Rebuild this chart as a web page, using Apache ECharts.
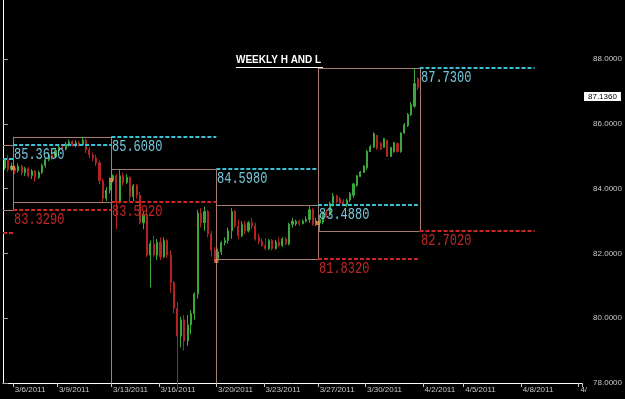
<!DOCTYPE html>
<html><head><meta charset="utf-8">
<script src="https://cdn.jsdelivr.net/npm/echarts@6/dist/echarts.min.js"></script>
<style>html,body{margin:0;padding:0;background:#000;}#c{width:625px;height:399px;}</style>
</head><body><div id="c"></div>
<script>
// ---------- data ----------
const titleText = 'WEEKLY H AND L';
const yMin = 78, yMax = 89.83, yStep = 2;
const slotCount = 171;                       // 4-hour slots shown on the x axis
const tickIdx = [3, 16, 32, 46, 63, 77, 93, 107, 124, 136, 153, 170];
const tickLabels = ['3/6/2011','3/9/2011','3/13/2011','3/16/2011','3/20/2011','3/23/2011','3/27/2011','3/30/2011','4/2/2011','4/5/2011','4/8/2011','4/'];
// week spans in slot units (week 0 starts off-chart, week 5 has no bars yet)
const weekFrom = [-27, 3, 32, 63, 93, 123];
const weekTo   = [3, 32, 63, 93, 123, 157];
// weekly high / low for weeks -1 .. 4
const weeklyHigh = [84.91, 85.365, 85.608, 84.598, 83.488, 87.730];
const weeklyLow  = [82.63, 83.329, 83.592, 77.800, 81.832, 82.702];
// weekly open (weeks 1..4)
const weeklyOpen = [84.64, 84.27, 81.77, 82.94];
const lastClose = 87.136;
// candles: [open, close, low, high]
const candlesPre = [
 [84.65,84.90,84.58,84.95],[84.90,84.60,84.52,85.05],[84.60,84.70,84.55,84.80]
];
const candlesW1 = [
 [84.64,84.55,84.45,84.72],[84.55,84.70,84.50,84.78],[84.70,84.50,84.42,84.74],[84.50,84.62,84.40,84.68],
 [84.62,84.40,84.35,84.66],[84.40,84.55,84.30,84.60],[84.55,84.35,84.21,84.58],[84.35,84.50,84.30,84.56],
 [84.50,84.72,84.45,84.78],[84.72,84.90,84.65,84.95],[84.90,85.05,84.85,85.12],[85.05,84.98,84.90,85.15],
 [84.98,85.18,84.95,85.22],[85.18,85.28,85.10,85.35],[85.28,85.22,85.15,85.36],[85.22,85.38,85.18,85.45],
 [85.38,85.45,85.30,85.52],[85.45,85.35,85.30,85.50],[85.35,85.42,85.28,85.50],[85.42,85.36,85.30,85.48],
 [85.36,85.50,85.32,85.608],[85.50,85.20,85.10,85.55],[85.20,85.05,84.95,85.28],[85.05,84.95,84.85,85.12],
 [84.95,84.80,84.70,85.05],[84.80,84.25,84.15,84.88],[84.25,83.70,83.592,84.32],[83.70,83.95,83.62,84.05],
 [83.95,84.25,83.85,84.35]
];
const candlesW2 = [
 [84.27,84.40,84.20,84.45],[84.40,83.60,82.75,84.45],[83.60,84.40,83.55,84.598],[84.40,84.20,84.10,84.50],
 [84.20,84.35,84.15,84.45],[84.35,83.75,83.62,84.38],[83.75,84.10,83.62,84.15],[84.10,83.80,83.70,84.15],
 [83.80,82.95,82.90,83.90],[82.95,83.20,82.75,83.30],[83.20,81.95,81.89,83.25],[81.95,82.30,80.95,82.40],
 [82.30,81.95,81.90,82.55],[81.95,82.35,81.80,82.45],[82.35,81.90,81.80,82.50],[81.90,82.40,81.85,82.50],
 [82.40,81.95,81.85,82.45],[81.95,81.10,80.78,82.10],[81.10,80.30,80.15,81.15],[80.30,79.45,77.80,80.50],
 [79.45,79.95,79.10,80.05],[79.95,79.30,79.00,80.10],[79.30,79.80,79.15,80.10],[79.80,80.15,79.50,80.25],
 [80.15,80.75,79.95,80.80],[80.75,83.25,80.60,83.35],[83.25,82.95,82.80,83.40],[82.95,83.30,82.70,83.45],
 [83.30,82.60,82.50,83.35],[82.60,82.10,81.90,82.70],[82.10,81.85,81.77,82.20]
];
const candlesW3 = [
 [81.84,82.05,81.832,82.15],[82.05,82.33,81.95,82.38],[82.33,82.40,82.25,82.50],[82.40,82.70,82.30,82.80],
 [82.70,83.30,82.45,83.40],[83.30,82.85,82.80,83.35],[82.85,82.55,82.45,83.05],[82.55,82.90,82.50,83.00],
 [82.90,82.70,82.60,83.00],[82.70,82.95,82.65,83.00],[82.95,82.85,82.75,83.10],[82.85,82.45,82.40,82.95],
 [82.50,82.38,82.30,82.60],[82.38,82.25,82.20,82.45],[82.25,82.15,82.10,82.48],[82.15,82.40,82.10,82.45],
 [82.40,82.15,82.10,82.45],[82.15,82.35,82.12,82.42],[82.35,82.25,82.20,82.50],[82.25,82.45,82.20,82.50],
 [82.45,82.30,82.25,82.50],[82.30,82.90,82.25,82.95],[82.90,83.00,82.80,83.10],[82.92,83.00,82.85,83.05],
 [83.00,82.92,82.85,83.05],[82.92,83.00,82.90,83.05],[83.00,83.05,82.95,83.15],[83.05,83.35,82.95,83.488],
 [83.35,82.90,82.85,83.40],[82.90,83.00,82.85,83.10]
];
const candlesW4 = [
 [82.94,83.05,82.702,83.19],[82.97,83.28,82.90,83.30],[83.28,83.20,83.10,83.35],[83.20,83.55,83.15,83.60],
 [83.55,83.78,83.45,83.87],[83.78,83.60,83.55,83.82],[83.70,83.55,83.50,83.75],[83.60,83.50,83.45,83.68],
 [83.50,83.65,83.44,83.70],[83.65,83.85,83.58,83.90],[83.80,84.15,83.72,84.18],[84.10,84.40,84.06,84.43],
 [84.38,84.52,84.36,84.55],[84.50,84.70,84.49,84.73],[84.65,85.15,84.58,85.20],[85.15,85.30,85.14,85.35],
 [85.28,85.70,85.26,85.75],[85.65,85.25,85.20,85.66],[85.40,85.22,85.20,85.45],[85.28,85.55,85.26,85.57],
 [85.50,85.00,84.98,85.51],[85.00,85.28,84.98,85.29],[85.15,85.42,85.11,85.45],[85.40,85.15,85.12,85.42],
 [85.15,85.72,85.11,85.75],[85.72,85.98,85.70,86.03],[85.95,86.30,85.91,86.34],[86.28,86.60,86.25,86.68],
 [86.55,87.25,86.50,87.73],[87.40,87.136,87.05,87.45]
];

// ---------- styles ----------
const UP = '#3aa83a', DOWN = '#b52222';
const BOX = '#a67c72';
const HI_LINE = '#3cc0d4', LO_LINE = '#cc2626';
const HI_TXT = '#74c6d8', LO_TXT = '#c02626';
const AXIS_TXT = '#c8c8c8';
const FONT = '"Liberation Sans", Arial, sans-serif';

// ---------- build ----------
const categories = Array.from({length: slotCount}, (_, i) => String(i));
const candles = [].concat(candlesPre, candlesW1, candlesW2, candlesW3, candlesW4);
const boxes = [];
for (let w = 0; w < 5; w++) boxes.push([weekFrom[w], weekTo[w], weeklyHigh[w + 1], weeklyLow[w + 1]]);
const levels = [];
for (let w = 0; w < 6; w++) {
  levels.push([weekFrom[w], weekTo[w], weeklyHigh[w], 0]);
  levels.push([weekFrom[w], weekTo[w], weeklyLow[w], 1]);
}
const opens = weeklyOpen.map((v, i) => [weekFrom[i + 1], v]);

function renderBox(params, api) {
  const cs = params.coordSys;
  const a = api.coord([api.value(0), api.value(2)]);
  const b = api.coord([api.value(1), api.value(3)]);
  const L = Math.max(a[0], cs.x), R = Math.min(b[0], cs.x + cs.width);
  const T = Math.max(a[1], cs.y), B = Math.min(b[1], cs.y + cs.height);
  const st = {stroke: BOX, lineWidth: 1};
  const kids = [];
  const px = v => Math.round(v) + 0.5;
  if (a[1] >= cs.y) kids.push({type: 'line', shape: {x1: L, y1: px(a[1]), x2: R, y2: px(a[1])}, style: st});
  if (b[1] <= cs.y + cs.height) kids.push({type: 'line', shape: {x1: L, y1: px(b[1]), x2: R, y2: px(b[1])}, style: st});
  if (a[0] >= cs.x) kids.push({type: 'line', shape: {x1: px(a[0]), y1: T, x2: px(a[0]), y2: B}, style: st});
  if (b[0] <= cs.x + cs.width) kids.push({type: 'line', shape: {x1: px(b[0]), y1: T, x2: px(b[0]), y2: B}, style: st});
  return {type: 'group', children: kids};
}
function renderLevel(params, api) {
  const cs = params.coordSys;
  const v = api.value(2), kind = api.value(3);
  const a = api.coord([api.value(0), v]);
  const b = api.coord([api.value(1), v]);
  const y = Math.round(a[1]);
  if (y < cs.y || y > cs.y + cs.height) return null;
  const x0 = Math.max(a[0], cs.x), x1 = Math.min(b[0], cs.x + cs.width);
  const kids = [{type: 'line', shape: {x1: x0, y1: y, x2: x1, y2: y},
    style: {stroke: kind === 0 ? HI_LINE : LO_LINE, lineWidth: 2, lineDash: [4, 2]}}];
  if (a[0] >= cs.x) {
    kids.push({type: 'text', x: Math.round(a[0]) + 1, y: y + 1, scaleY: 1.45,
      style: {text: v.toFixed(4), x: 0, y: 0, fill: kind === 0 ? HI_TXT : LO_TXT,
        font: '12px "Liberation Mono", monospace', align: 'left', verticalAlign: 'top'}});
  }
  return {type: 'group', children: kids};
}
function renderLast(params, api) {
  const p = api.coord([api.value(0), api.value(1)]);
  return {type: 'text', x: Math.round(p[0]) + 2, y: Math.round(p[1]) + 5,
    style: {text: api.value(1).toFixed(4), x: 0, y: 0, fill: '#000', backgroundColor: '#ffffff',
      padding: [1, 4, 0, 4], font: '8px ' + FONT, align: 'left', verticalAlign: 'top'}};
}

const chart = echarts.init(document.getElementById('c'), null, {renderer: 'canvas'});
chart.setOption({
  backgroundColor: '#000',
  animation: false,
  title: {text: titleText, left: 236, top: 55, padding: 0,
    textStyle: {color: '#fff', fontSize: 10, fontWeight: 'bold', fontFamily: FONT}},
  graphic: [{type: 'line', shape: {x1: 236, y1: 67.5, x2: 323, y2: 67.5}, style: {stroke: '#fff', lineWidth: 1}}],
  grid: {left: 3, right: 38, top: 0, bottom: 16, containLabel: false},
  xAxis: [
    {type: 'category', data: categories, boundaryGap: true, gridIndex: 0,
      axisLine: {show: true, lineStyle: {color: '#ffffff', width: 1}},
      axisTick: {show: true, length: 4, interval: (i) => tickIdx.includes(i), lineStyle: {color: AXIS_TXT}},
      axisLabel: {show: true, interval: (i) => tickIdx.includes(i), align: 'left', margin: 3,
        color: AXIS_TXT, fontSize: 8, fontFamily: FONT,
        formatter: (val, i) => { const k = tickIdx.indexOf(Number(val)); return k >= 0 ? tickLabels[k] : ''; }},
      splitLine: {show: false}},
    {type: 'value', min: 0, max: slotCount, show: false, gridIndex: 0}
  ],
  yAxis: [
    {type: 'value', position: 'right', min: yMin, max: yMax, interval: yStep, scale: true,
      axisLine: {show: true, lineStyle: {color: '#a8a8a8'}},
      axisTick: {show: true, length: 5, lineStyle: {color: '#a8a8a8'}},
      axisLabel: {color: AXIS_TXT, fontSize: 8, fontFamily: FONT, margin: 11, showMaxLabel: false,
        formatter: (v) => (Math.abs(v / yStep - Math.round(v / yStep)) < 1e-6 ? v.toFixed(4) : '')},
      splitLine: {show: false}},
    {type: 'value', position: 'left', min: yMin, max: yMax,
      axisLine: {show: true, lineStyle: {color: '#ffffff'}},
      axisTick: {show: false}, axisLabel: {show: false}, splitLine: {show: false}}
  ],
  series: [
    {type: 'custom', name: 'weekly range', xAxisIndex: 1, yAxisIndex: 0, z: 1,
      renderItem: renderBox, data: boxes, silent: true},
    {type: 'candlestick', name: 'price', xAxisIndex: 0, yAxisIndex: 0, z: 2,
      data: candles, barWidth: 1.6, clip: true,
      itemStyle: {color: UP, color0: DOWN, borderColor: UP, borderColor0: DOWN, borderWidth: 1}},
    {type: 'custom', name: 'prior week levels', xAxisIndex: 1, yAxisIndex: 0, z: 3,
      renderItem: renderLevel, data: levels, silent: true},
    {type: 'scatter', name: 'weekly open', xAxisIndex: 1, yAxisIndex: 0, z: 4,
      data: opens, symbol: 'rect', symbolSize: 4, itemStyle: {color: '#f08a50'}, silent: true},
    {type: 'custom', name: 'last price', xAxisIndex: 1, yAxisIndex: 0, z: 5, clip: false,
      renderItem: renderLast, data: [[slotCount, lastClose]], silent: true}
  ]
});
</script></body></html>
